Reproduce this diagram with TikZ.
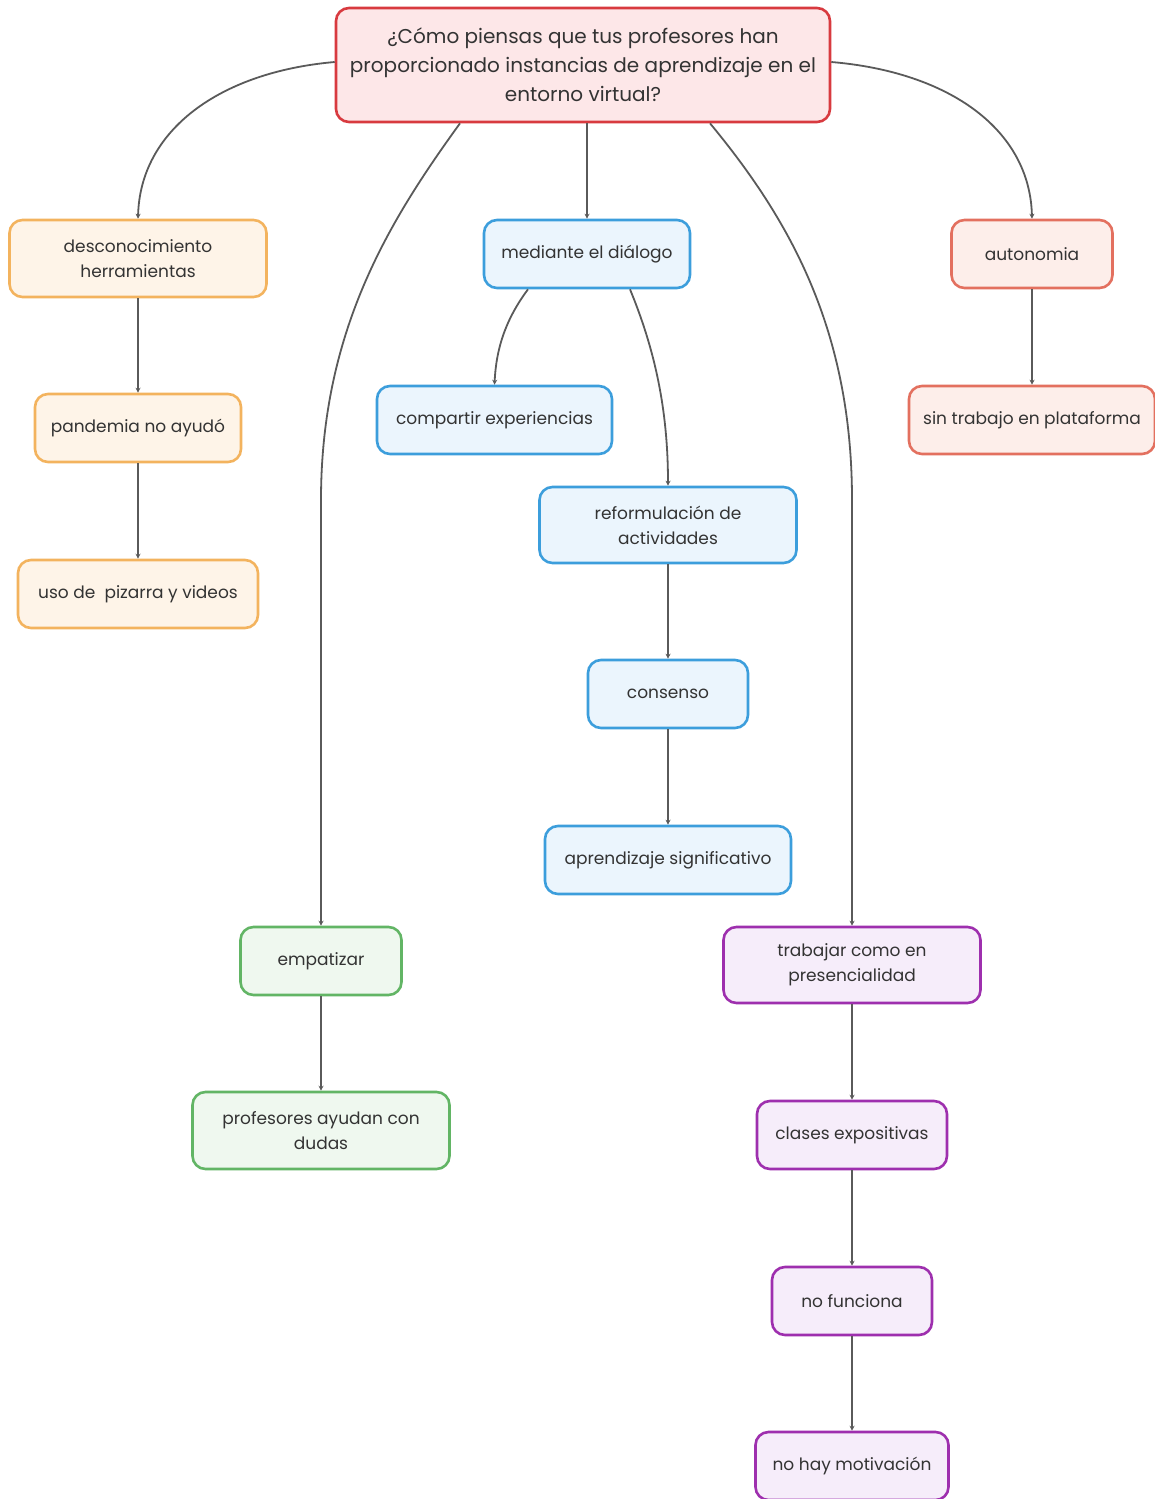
\documentclass[tikz,border=0pt]{standalone}
\usepackage{fontspec}
\setmainfont{Poppins}
\usetikzlibrary{arrows.meta}
\definecolor{txt}{HTML}{333333}
\definecolor{ln}{HTML}{5A5A5A}
\definecolor{redB}{HTML}{D83A3F}\definecolor{redF}{HTML}{FDE7E8}
\definecolor{orB}{HTML}{F3B35E}\definecolor{orF}{HTML}{FEF4E8}
\definecolor{blB}{HTML}{3C9EDC}\definecolor{blF}{HTML}{EBF5FD}
\definecolor{saB}{HTML}{E3705F}\definecolor{saF}{HTML}{FDEEEA}
\definecolor{grB}{HTML}{62B565}\definecolor{grF}{HTML}{EFF8EF}
\definecolor{puB}{HTML}{9E2FAE}\definecolor{puF}{HTML}{F6EDFA}
\tikzset{
  box/.style={draw, line width=2.6pt, rounded corners=13pt, inner sep=0pt, align=center,
    text=txt, font=\fontsize{17}{25}\selectfont},
  orbox/.style={box, draw=orB, fill=orF},
  blbox/.style={box, draw=blB, fill=blF},
  sabox/.style={box, draw=saB, fill=saF},
  grbox/.style={box, draw=grB, fill=grF},
  pubox/.style={box, draw=puB, fill=puF},
  conn/.style={draw=ln, line width=1.8pt, -{Stealth[length=5pt,width=5pt]}},
}
\begin{document}
\begin{tikzpicture}[x=1pt,y=-1pt]
\useasboundingbox[fill=white] (0,0) rectangle (1154,1499);
% title
\node[box, draw=redB, fill=redF, minimum width=494pt, minimum height=114pt,
  font=\fontsize{20}{29}\selectfont] (title) at (583,65)
  {¿Cómo piensas que tus profesores han\\proporcionado instancias de aprendizaje en el\\entorno virtual?};
% orange branch
\node[orbox, minimum width=257pt, minimum height=77pt] (des) at (138,258.5) {desconocimiento\\herramientas};
\node[orbox, minimum width=206pt, minimum height=68pt] (pan) at (138,428) {pandemia no ayudó};
\node[orbox, minimum width=240pt, minimum height=68pt] (uso) at (138,594) {uso de\ \ pizarra y videos};
% blue branch
\node[blbox, minimum width=206pt, minimum height=68pt] (med) at (587,254) {mediante el diálogo};
\node[blbox, minimum width=235pt, minimum height=68pt] (com) at (494.5,420) {compartir experiencias};
\node[blbox, minimum width=257pt, minimum height=76pt] (ref) at (668,525) {reformulación de\\actividades};
\node[blbox, minimum width=160pt, minimum height=68pt] (con) at (668,694) {consenso};
\node[blbox, minimum width=246pt, minimum height=68pt] (apr) at (668,860) {aprendizaje significativo};
% salmon branch
\node[sabox, minimum width=161pt, minimum height=68pt] (aut) at (1032,254) {autonomia};
\node[sabox, minimum width=246pt, minimum height=68pt] (sin) at (1032,420) {sin trabajo en plataforma};
% green branch
\node[grbox, minimum width=161pt, minimum height=68pt] (emp) at (321,961) {empatizar};
\node[grbox, minimum width=257pt, minimum height=77pt] (pro) at (321,1130.5) {profesores ayudan con\\dudas};
% purple branch
\node[pubox, minimum width=257pt, minimum height=76pt] (tra) at (852,965) {trabajar como en\\presencialidad};
\node[pubox, minimum width=190pt, minimum height=68pt] (cla) at (852,1135) {clases expositivas};
\node[pubox, minimum width=160pt, minimum height=68pt] (nof) at (852,1301) {no funciona};
\node[pubox, minimum width=193pt, minimum height=68pt] (nom) at (852,1466) {no hay motivación};
% connectors
\draw[conn] ([yshift=3pt]title.west) .. controls (220,72) and (140,130) .. (des.north);
\draw[conn] ([yshift=3pt]title.east) .. controls (950,72) and (1030,130) .. (aut.north);
\draw[conn] ([xshift=4pt]title.south) -- (med.north);
\draw[conn] ([xshift=-123pt]title.south) .. controls (390,220) and (321,330) .. (321,500) -- (emp.north);
\draw[conn] ([xshift=127pt]title.south) .. controls (790,220) and (852,330) .. (852,500) -- (tra.north);
\draw[conn] ([xshift=-59pt]med.south) .. controls (505,320) and (496,350) .. (com.north);
\draw[conn] ([xshift=43pt]med.south) .. controls (655,350) and (668,410) .. (ref.north);
\draw[conn] (des.south) -- (pan.north);
\draw[conn] (pan.south) -- (uso.north);
\draw[conn] (ref.south) -- (con.north);
\draw[conn] (con.south) -- (apr.north);
\draw[conn] (aut.south) -- (sin.north);
\draw[conn] (emp.south) -- (pro.north);
\draw[conn] (tra.south) -- (cla.north);
\draw[conn] (cla.south) -- (nof.north);
\draw[conn] (nof.south) -- (nom.north);
\end{tikzpicture}
\end{document}
